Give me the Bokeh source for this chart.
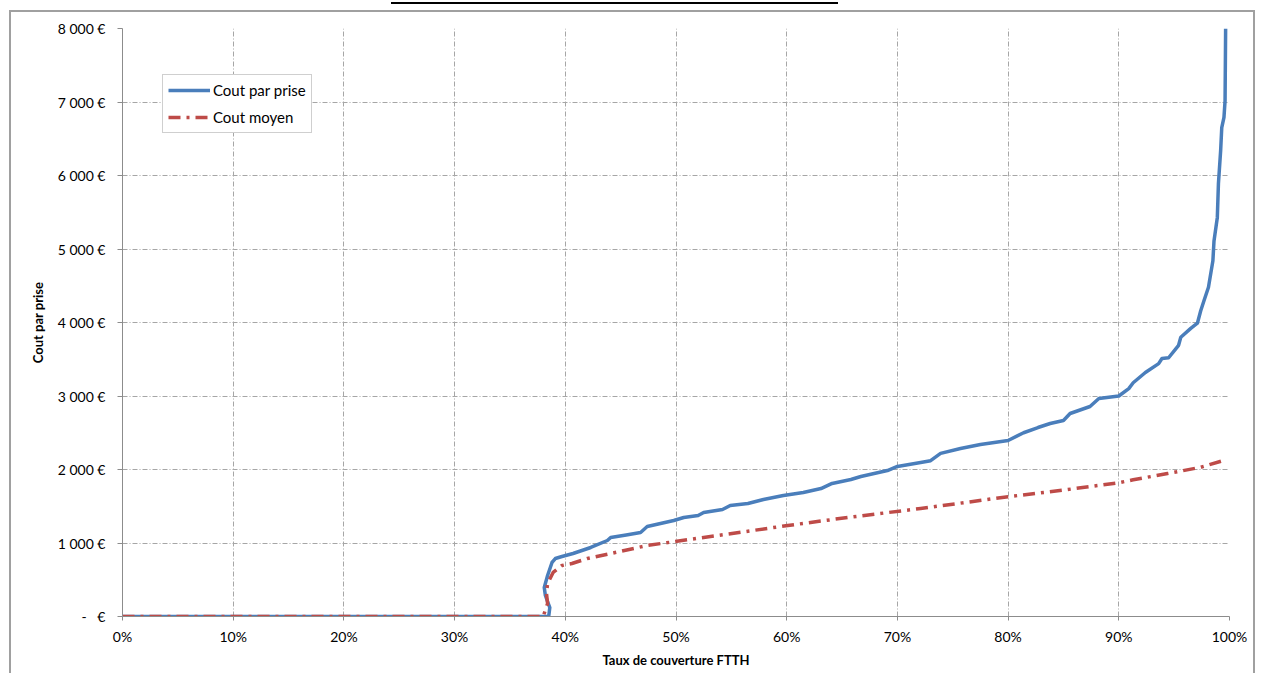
from bokeh.plotting import figure
from bokeh.models import Legend, LegendItem, FixedTicker, Range1d
from bokeh.embed import file_html
from bokeh.resources import INLINE

# ---- data (coverage in %, cost in €) ----
coverage_cout_par_prise = [0, 10, 20, 30, 38.5, 38.6, 38.2, 38.1, 38.4, 38.8, 39.1, 39.7, 40.7, 42.3,
                           43.8, 44.1, 45.5, 46.8, 47.4, 48.6, 49.8, 50.7, 52.0, 52.5, 54.2,
                           54.9, 56.5, 57.9, 59.7, 61.5, 63.1, 64.1, 65.8, 66.7, 69.1, 70.0,
                           72.1, 73.0, 73.9, 75.7, 77.5, 80.0, 81.4, 82.7, 83.8, 85.0, 85.6,
                           87.4, 88.2, 90.0, 90.9, 91.3, 92.4, 93.6, 93.9, 94.5, 95.4, 95.6,
                           96.5, 97.1, 97.4, 97.7, 98.1, 98.5, 98.6, 98.9, 99.0, 99.2, 99.3,
                           99.5, 99.6, 99.65]
cout_par_prise = [0, 0, 0, 0, 0, 122, 286, 395, 558, 735, 789, 816, 857, 939,
                  1034, 1075, 1110, 1143, 1224, 1265, 1306, 1347, 1374, 1415, 1456,
                  1510, 1537, 1592, 1646, 1687, 1741, 1810, 1864, 1905, 1986, 2041,
                  2095, 2120, 2220, 2286, 2340, 2395, 2500, 2571, 2626, 2667, 2762,
                  2857, 2966, 3000, 3100, 3180, 3320, 3440, 3510, 3520, 3690, 3800,
                  3920, 3990, 4160, 4300, 4480, 4840, 5110, 5430, 5890, 6340, 6650,
                  6790, 7020, 8000]

coverage_cout_moyen = [0, 10, 20, 30, 38.0, 38.4, 38.3, 38.4, 38.9, 39.7, 40.6, 42.0, 44.1,
                       47.4, 52.5, 60.1, 65.5, 72.1, 80.0, 85.0, 90.0, 91.3, 94.4, 97.4,
                       99.4, 99.7]
cout_moyen = [0, 0, 0, 0, 0, 177, 313, 449, 599, 694, 721, 789, 857,
              966, 1075, 1238, 1347, 1469, 1630, 1720, 1820, 1860, 1945, 2030,
              2120, 2135]

x_ticks = [0, 10, 20, 30, 40, 50, 60, 70, 80, 90, 100]
x_tick_labels = ["0%", "10%", "20%", "30%", "40%", "50%", "60%", "70%", "80%", "90%", "100%"]
y_ticks = [0, 1000, 2000, 3000, 4000, 5000, 6000, 7000, 8000]
y_tick_labels = ["-\u00a0\u00a0\u00a0€", "1\u00a0000\u00a0€", "2\u00a0000\u00a0€", "3\u00a0000\u00a0€",
                 "4\u00a0000\u00a0€", "5\u00a0000\u00a0€", "6\u00a0000\u00a0€", "7\u00a0000\u00a0€",
                 "8\u00a0000\u00a0€"]

series_names = ["Cout par prise", "Cout moyen"]

FONT = "Lato"
BLUE = "#4A7EBB"
RED = "#BE4B48"
GRID = "#a6a6a6"
AXIS = "#8c8c8c"

p = figure(width=1255, height=673, output_backend="svg", toolbar_location=None,
           x_range=Range1d(0, 100), y_range=Range1d(0, 8000),
           min_border_left=122, min_border_right=26, min_border_top=28, min_border_bottom=57)
p.border_fill_alpha = 0
p.background_fill_color = "white"
p.outline_line_color = None
p.styles = {
    "background": ("linear-gradient(#000,#000) 391px 2px / 447px 2px no-repeat, "
                   "linear-gradient(#a0a0a0,#a0a0a0) 9px 10px / 2px 100% no-repeat, "
                   "linear-gradient(#a0a0a0,#a0a0a0) 9px 10px / 100% 2px no-repeat, "
                   "linear-gradient(#a0a0a0,#a0a0a0) 1253px 10px / 2px 100% no-repeat, "
                   "#ffffff")
}

# grids
p.xgrid.ticker = FixedTicker(ticks=x_ticks)
p.ygrid.ticker = FixedTicker(ticks=y_ticks)
for g in (p.xgrid, p.ygrid):
    g.grid_line_color = GRID
    g.grid_line_dash = "5 2 1 2"
    g.grid_line_width = 1

# axes
p.xaxis.ticker = FixedTicker(ticks=x_ticks)
p.yaxis.ticker = FixedTicker(ticks=y_ticks)
p.xaxis.major_label_overrides = {t: l for t, l in zip(x_ticks, x_tick_labels)}
p.yaxis.major_label_overrides = {t: l for t, l in zip(y_ticks, y_tick_labels)}
for ax in (p.xaxis, p.yaxis):
    ax.axis_line_color = AXIS
    ax.axis_line_width = 1
    ax.major_tick_line_color = AXIS
    ax.major_tick_out = 5
    ax.major_tick_in = 0
    ax.minor_tick_line_color = None
    ax.major_label_text_font = FONT
    ax.major_label_text_font_size = "14px"
    ax.major_label_text_color = "#000000"
    ax.axis_label_text_font = FONT
    ax.axis_label_text_font_size = "13px"
    ax.axis_label_text_font_style = "bold"
    ax.axis_label_text_color = "#000000"
p.xaxis.major_tick_out = 4
p.xaxis.major_label_standoff = 7
p.yaxis.major_label_standoff = 12
p.xaxis.axis_label = "Taux de couverture FTTH"
p.yaxis.axis_label = "Cout par prise"
p.xaxis.axis_label_standoff = 4
p.yaxis.axis_label_standoff = 9

r_blue = p.line(coverage_cout_par_prise, cout_par_prise, line_color=BLUE, line_width=3.5,
                line_join="round")
r_red = p.line(coverage_cout_moyen, cout_moyen, line_color=RED, line_width=3.5,
               line_dash="12 6 3 6", line_join="round")

legend = Legend(items=[LegendItem(label=series_names[0], renderers=[r_blue]),
                       LegendItem(label=series_names[1], renderers=[r_red])],
                location=(40, 483))
legend.border_line_color = "#a0a0a0"
legend.border_line_width = 1
legend.background_fill_color = "white"
legend.background_fill_alpha = 1
legend.label_text_font = FONT
legend.label_text_font_size = "15px"
legend.label_text_color = "#000000"
legend.glyph_width = 42
legend.glyph_height = 20
legend.label_standoff = 3
legend.spacing = 7
legend.padding = 5
legend.margin = 0
legend.label_height = 20
p.add_layout(legend, "center")

open("out.html", "w").write(file_html(p, INLINE))
